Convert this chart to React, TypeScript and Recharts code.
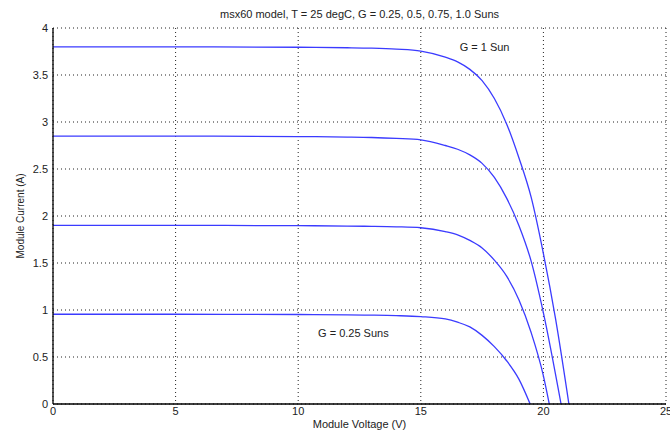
import { LineChart, Line, XAxis, YAxis, CartesianGrid, ReferenceDot } from 'recharts';

// voltage (V) / current (A) pairs, one pair of arrays per irradiance
const v100 = [0, 5, 10, 12, 13, 14, 15, 16, 16.5, 17, 17.5, 18, 18.5, 19, 19.5, 20, 20.5, 21.04];
const i100 = [3.8, 3.8, 3.795, 3.79, 3.785, 3.775, 3.755, 3.69, 3.64, 3.56, 3.44, 3.25, 2.98, 2.62, 2.2, 1.6, 0.9, 0];
const v75 = [0, 5, 10, 12, 13, 14, 15, 16, 16.5, 17, 17.5, 18, 18.5, 19, 19.5, 20, 20.72];
const i75 = [2.85, 2.85, 2.845, 2.84, 2.835, 2.825, 2.81, 2.75, 2.71, 2.65, 2.56, 2.41, 2.19, 1.9, 1.52, 0.97, 0];
const v50 = [0, 5, 10, 12, 13, 14, 15, 16, 16.5, 17, 17.5, 18, 18.5, 19, 19.5, 20, 20.24];
const i50 = [1.9, 1.9, 1.897, 1.893, 1.89, 1.885, 1.875, 1.835, 1.8, 1.74, 1.66, 1.53, 1.36, 1.11, 0.76, 0.3, 0];
const v25 = [0, 5, 10, 12, 13, 14, 15, 16, 16.5, 17, 17.5, 18, 18.5, 19, 19.46];
const i25 = [0.955, 0.955, 0.952, 0.948, 0.945, 0.94, 0.93, 0.905, 0.87, 0.82, 0.73, 0.61, 0.46, 0.265, 0];

const xTicks = [0, 5, 10, 15, 20, 25];
const yTicks = [0, 0.5, 1, 1.5, 2, 2.5, 3, 3.5, 4];

const zip = (v: number[], i: number[]) => v.map((x, k) => ({ v: x, i: i[k] }));
const curves = [zip(v100, i100), zip(v75, i75), zip(v50, i50), zip(v25, i25)];

const FONT = '"Liberation Sans", Arial, sans-serif';
const tickStyle = { fontSize: 11, fill: '#222', fontFamily: FONT };

export default function App() {
  return (
    <div style={{ position: 'relative', width: 670, height: 434, fontFamily: FONT }}>
      <style>{`body{margin:0}`}</style>
      <div style={{ position: 'absolute', left: 53, width: 613, top: 8, textAlign: 'center', fontSize: 11, color: '#222' }}>
        msx60 model, T = 25 degC, G = 0.25, 0.5, 0.75, 1.0 Suns
      </div>
      <div style={{ position: 'absolute', left: 53, width: 613, top: 418, textAlign: 'center', fontSize: 11, color: '#222' }}>
        Module Voltage (V)
      </div>
      <div
        style={{
          position: 'absolute', left: 20, top: 216, fontSize: 10, color: '#222', whiteSpace: 'nowrap',
          transform: 'translate(-50%, -50%) rotate(-90deg)',
        }}
      >
        Module Current (A)
      </div>
      <LineChart width={670} height={434} margin={{ top: 28, right: 4, bottom: 0, left: 0 }} style={{ overflow: 'visible' }}>
        <CartesianGrid stroke="#222" strokeDasharray="1 3" />
        <XAxis
          dataKey="v" type="number" domain={[0, 25]} ticks={xTicks} allowDataOverflow height={30}
          tickLine={false} tickSize={0} tickMargin={3} tick={tickStyle} interval={0}
          axisLine={{ stroke: '#000', strokeWidth: 1.3 }}
        />
        <YAxis
          type="number" domain={[0, 4]} ticks={yTicks} width={53} interval={0}
          tickLine={false} tickSize={0} tickMargin={5} tick={tickStyle}
          axisLine={{ stroke: '#000', strokeWidth: 1.3 }}
        />
        {curves.map((d, k) => (
          <Line
            key={k} data={d} dataKey="i" type="monotone" stroke="#3b3bff" strokeWidth={1.3}
            dot={false} isAnimationActive={false}
          />
        ))}
        <ReferenceDot x={17.6} y={3.8} r={0} fill="none" stroke="none"
          label={{ value: 'G = 1 Sun', position: 'center', fontSize: 11, fill: '#222', fontFamily: FONT }} />
        <ReferenceDot x={12.25} y={0.75} r={0} fill="none" stroke="none"
          label={{ value: 'G = 0.25 Suns', position: 'center', fontSize: 11, fill: '#222', fontFamily: FONT }} />
      </LineChart>
    </div>
  );
}
